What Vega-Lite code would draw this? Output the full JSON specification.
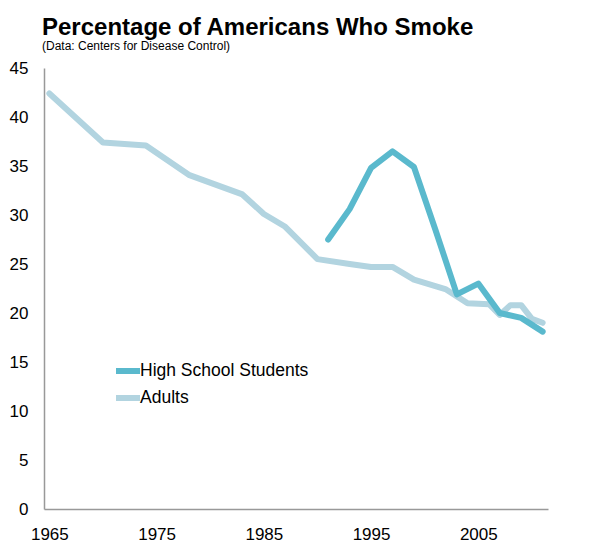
{
  "$schema": "https://vega.github.io/schema/vega-lite/v6.json",
  "autosize": {"type": "none"},
  "padding": {"left": 44, "top": 68, "right": 42, "bottom": 39},
  "width": 504,
  "height": 441,
  "background": "white",
  "title": {
    "text": "Percentage of Americans Who Smoke",
    "subtitle": "(Data: Centers for Disease Control)",
    "anchor": "start",
    "frame": "group",
    "dx": -2,
    "font": "Liberation Sans",
    "fontSize": 24,
    "fontWeight": "bold",
    "color": "#000000",
    "subtitleFont": "Liberation Sans",
    "subtitleFontSize": 12,
    "subtitleColor": "#000000",
    "subtitlePadding": 1,
    "offset": 7
  },
  "config": {
    "view": {"stroke": null},
    "font": "Liberation Sans"
  },
  "data": {
    "values": [
      {"group": "Adults", "year": 1965, "pct": 42.4},
      {"group": "Adults", "year": 1970, "pct": 37.4},
      {"group": "Adults", "year": 1974, "pct": 37.1},
      {"group": "Adults", "year": 1978, "pct": 34.1},
      {"group": "Adults", "year": 1983, "pct": 32.1},
      {"group": "Adults", "year": 1985, "pct": 30.1},
      {"group": "Adults", "year": 1987, "pct": 28.8},
      {"group": "Adults", "year": 1990, "pct": 25.5},
      {"group": "Adults", "year": 1993, "pct": 25.0},
      {"group": "Adults", "year": 1995, "pct": 24.7},
      {"group": "Adults", "year": 1997, "pct": 24.7},
      {"group": "Adults", "year": 1999, "pct": 23.4},
      {"group": "Adults", "year": 2002, "pct": 22.4},
      {"group": "Adults", "year": 2004, "pct": 21.0},
      {"group": "Adults", "year": 2006, "pct": 20.9},
      {"group": "Adults", "year": 2007, "pct": 19.8},
      {"group": "Adults", "year": 2008, "pct": 20.8},
      {"group": "Adults", "year": 2009, "pct": 20.8},
      {"group": "Adults", "year": 2010, "pct": 19.4},
      {"group": "Adults", "year": 2011, "pct": 19.0},
      {"group": "High School Students", "year": 1991, "pct": 27.5},
      {"group": "High School Students", "year": 1993, "pct": 30.6},
      {"group": "High School Students", "year": 1995, "pct": 34.8},
      {"group": "High School Students", "year": 1997, "pct": 36.5},
      {"group": "High School Students", "year": 1999, "pct": 34.9},
      {"group": "High School Students", "year": 2001, "pct": 28.5},
      {"group": "High School Students", "year": 2003, "pct": 21.9},
      {"group": "High School Students", "year": 2005, "pct": 23.0},
      {"group": "High School Students", "year": 2007, "pct": 20.0},
      {"group": "High School Students", "year": 2009, "pct": 19.5},
      {"group": "High School Students", "year": 2011, "pct": 18.1}
    ]
  },
  "mark": {"type": "line", "strokeWidth": 6, "strokeCap": "round", "strokeJoin": "round"},
  "encoding": {
    "x": {
      "field": "year",
      "type": "quantitative",
      "scale": {"domain": [1964.5, 2011.5], "nice": false, "zero": false},
      "axis": {
        "title": null,
        "values": [1965, 1975, 1985, 1995, 2005],
        "format": "d",
        "ticks": false,
        "grid": false,
        "labelPadding": 17,
        "labelFontSize": 17,
        "labelColor": "#000000",
        "domainColor": "#999999",
        "domainWidth": 1.5
      }
    },
    "y": {
      "field": "pct",
      "type": "quantitative",
      "scale": {"domain": [0, 45], "nice": false},
      "axis": {
        "title": null,
        "values": [0, 5, 10, 15, 20, 25, 30, 35, 40, 45],
        "ticks": false,
        "grid": false,
        "labelPadding": 16,
        "labelFontSize": 17,
        "labelColor": "#000000",
        "domainColor": "#999999",
        "domainWidth": 1.5
      }
    },
    "color": {
      "field": "group",
      "type": "nominal",
      "scale": {"domain": ["High School Students", "Adults"], "range": ["#5ab9cd", "#b2d4e0"]},
      "legend": {
        "title": null,
        "orient": "none",
        "legendX": 69,
        "legendY": 288,
        "padding": 0,
        "symbolType": "stroke",
        "symbolSize": 576,
        "symbolStrokeWidth": 6,
        "labelFontSize": 17.5,
        "labelColor": "#000000",
        "labelOffset": -3,
        "labelLimit": 0,
        "rowPadding": 0
      }
    }
  }
}
